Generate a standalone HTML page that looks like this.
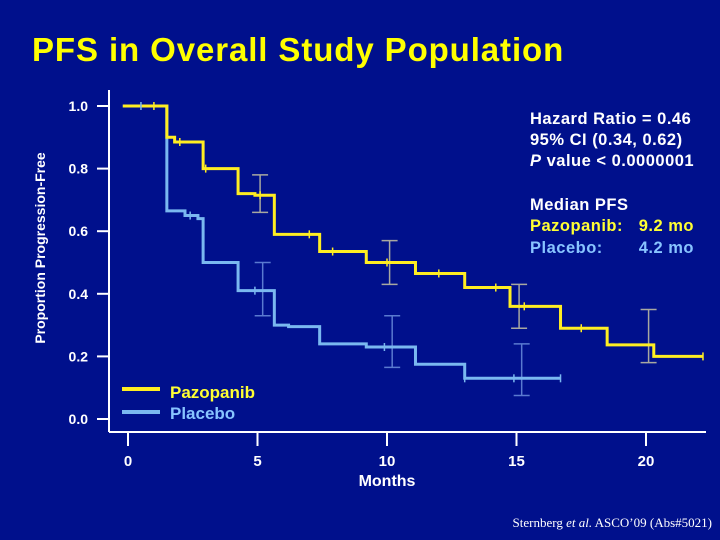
<!DOCTYPE html>
<html><head><meta charset="utf-8"><style>
html,body{margin:0;padding:0;background:#00108c;}
svg{display:block;font-family:"Liberation Sans",Arial,sans-serif;}
</style></head><body>
<svg id="chart" width="720" height="540" viewBox="0 0 720 540">
<rect width="720" height="540" fill="#00108c"/>
<text x="32" y="61" fill="#ffff00" font-size="33" font-weight="bold" letter-spacing="0.9">PFS in Overall Study Population</text>
<text transform="translate(45,248) rotate(-90)" text-anchor="middle" fill="#fff" font-size="14" font-weight="bold">Proportion Progression-Free</text>
<g id="axes"></g>
<g id="series"></g>
<text x="387" y="486" text-anchor="middle" fill="#fff" font-size="16" font-weight="bold">Months</text>
<g font-size="16.5" font-weight="bold" letter-spacing="0.5">
<text x="530" y="124" fill="#fff">Hazard Ratio = 0.46</text>
<text x="530" y="145" fill="#fff">95% CI (0.34, 0.62)</text>
<text x="530" y="166" fill="#fff"><tspan font-style="italic">P</tspan> value &lt; 0.0000001</text>
<text x="530" y="210" fill="#fff">Median PFS</text>
<text x="530" y="231" fill="#ffff33">Pazopanib:</text>
<text x="694" y="231" fill="#ffff33" text-anchor="end">9.2 mo</text>
<text x="530" y="253" fill="#88c4ff">Placebo:</text>
<text x="694" y="253" fill="#88c4ff" text-anchor="end">4.2 mo</text>
</g>
<g>
<line x1="122" y1="389" x2="160" y2="389" stroke="#ffee22" stroke-width="4"/>
<text x="170" y="398" fill="#ffff33" font-size="17" font-weight="bold">Pazopanib</text>
<line x1="122" y1="412" x2="160" y2="412" stroke="#7ab8f0" stroke-width="4"/>
<text x="170" y="419" fill="#88c4ff" font-size="17" font-weight="bold">Placebo</text>
</g>
<text x="712" y="527" text-anchor="end" fill="#fff" font-size="13" font-family="Liberation Serif,serif">Sternberg <tspan font-style="italic">et al.</tspan> ASCO’09 (Abs#5021)</text>
</svg>
<script>
const xTicks=[0,5,10,15,20];
const yTicks=[0,0.2,0.4,0.6,0.8,1.0];
const yTickLabels=["0.0","0.2","0.4","0.6","0.8","1.0"];
const pazTimes=[-0.2,1.5,1.8,2.9,4.25,4.9,5.65,7.4,9.2,11.1,13.0,14.75,16.7,18.5,20.3,22.2];
const pazValues=[1.0,0.90,0.885,0.80,0.72,0.715,0.59,0.535,0.50,0.465,0.42,0.36,0.29,0.237,0.20,0.20];
const plaTimes=[-0.2,1.5,2.2,2.7,2.9,4.25,5.65,6.2,7.4,9.2,11.1,13.0,16.7];
const plaValues=[1.0,0.665,0.65,0.64,0.50,0.41,0.30,0.295,0.24,0.23,0.175,0.13,0.13];
const pazCensor=[1.0,2.0,3.0,5.1,7.0,7.9,10.0,12.0,14.2,15.3,17.5,22.2];
const plaCensor=[0.5,2.4,4.9,9.9,13.0,14.9,16.7];
const pazCI=[[5.1,0.78,0.66],[10.1,0.57,0.43],[15.1,0.43,0.29],[20.1,0.35,0.18]];
const plaCI=[[5.2,0.50,0.33],[10.2,0.33,0.165],[15.2,0.24,0.075]];
const NS="http://www.w3.org/2000/svg";
const X=m=>128+m*25.9, Y=v=>419-v*313;
function mk(tag,attrs,parent){const e=document.createElementNS(NS,tag);for(const k in attrs)e.setAttribute(k,attrs[k]);parent.appendChild(e);return e;}
const axes=document.getElementById('axes'), series=document.getElementById('series');
let e=mk('line',{x1:109,y1:90,x2:109,y2:432,stroke:'#fff','stroke-width':2},axes);


e=mk('line',{x1:109,y1:432,x2:706,y2:432,stroke:'#fff','stroke-width':2},axes);


yTicks.forEach((v,i)=>{
 let t=mk('line',{x1:97,y1:Y(v),x2:109,y2:Y(v),stroke:'#fff','stroke-width':2},axes);
 
 
 let l=mk('text',{x:88,y:Y(v)+5,'text-anchor':'end',fill:'#fff','font-size':14,'font-weight':'bold'},axes);
 l.textContent=yTickLabels[i];
 
 
});
xTicks.forEach(m=>{
 let t=mk('line',{x1:X(m),y1:432,x2:X(m),y2:446,stroke:'#fff','stroke-width':2},axes);
 
 
 let l=mk('text',{x:X(m),y:466,'text-anchor':'middle',fill:'#fff','font-size':15,'font-weight':'bold'},axes);
 l.textContent=String(m);
 
 
});
function stepPath(ts,vs){let d='M'+X(ts[0])+','+Y(vs[0]);for(let i=1;i<ts.length;i++){d+=' H'+X(ts[i])+' V'+Y(vs[i]);}return d;}
function valAt(ts,vs,t){let v=vs[0];for(let i=0;i<ts.length;i++){if(ts[i]<=t)v=vs[i];}return v;}
function ci(arr,color,name){arr.forEach(c=>{const g=mk('g',{stroke:color,'stroke-width':1.5,fill:'none'},series);
 
 
 mk('line',{x1:X(c[0]),y1:Y(c[1]),x2:X(c[0]),y2:Y(c[2])},g);
 mk('line',{x1:X(c[0])-8,y1:Y(c[1]),x2:X(c[0])+8,y2:Y(c[1])},g);
 mk('line',{x1:X(c[0])-8,y1:Y(c[2]),x2:X(c[0])+8,y2:Y(c[2])},g);});}
ci(pazCI,'#a8a8a0','pazopanib-ci');
ci(plaCI,'#5a7ad0','placebo-ci');
let p=mk('path',{d:stepPath(plaTimes,plaValues),stroke:'#7ab8f0','stroke-width':3,fill:'none'},series);


p=mk('path',{d:stepPath(pazTimes,pazValues),stroke:'#ffee22','stroke-width':3,fill:'none'},series);


function cens(arr,ts,vs,color,name){arr.forEach(t=>{const v=valAt(ts,vs,t);
 const c=mk('line',{x1:X(t),y1:Y(v)-4,x2:X(t),y2:Y(v)+4,stroke:color,'stroke-width':1.5},series);
 
 });}
cens(plaCensor,plaTimes,plaValues,'#7ab8f0','placebo-censor');
cens(pazCensor,pazTimes,pazValues,'#ffee22','pazopanib-censor');
</script>
</body></html>
